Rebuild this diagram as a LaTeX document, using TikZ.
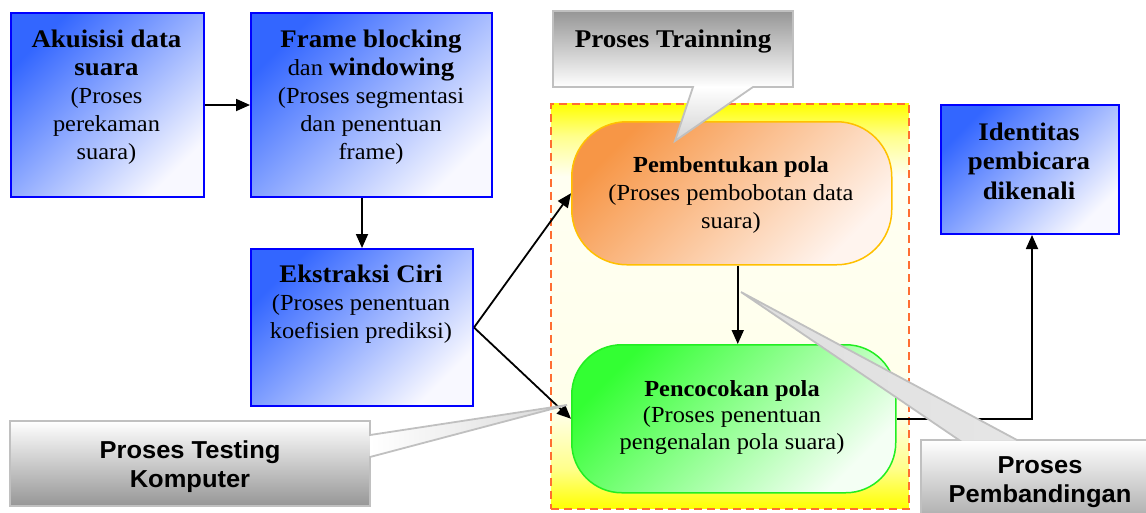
\documentclass[tikz,border=0pt]{standalone}
\usepackage{fontspec}
\setmainfont{Liberation Serif}[FakeStretch=1.06]
\newfontfamily\sansb{Liberation Sans}[FakeStretch=1.04]
\usetikzlibrary{arrows.meta}
\definecolor{boxblue}{HTML}{3366FF}
\definecolor{borderblue}{HTML}{0000FF}
\definecolor{boxwhite}{HTML}{F8F8FF}
\definecolor{orangeA}{HTML}{F79646}
\definecolor{orangeW}{HTML}{FFF4EE}
\definecolor{goldb}{HTML}{FFC000}
\definecolor{greenA}{HTML}{33FF33}
\definecolor{greenB}{HTML}{22EE22}
\definecolor{greenW}{HTML}{F4FFF4}
\definecolor{dashor}{HTML}{FF6E32}
\definecolor{cborder}{HTML}{C0C0C0}
\definecolor{cgray}{HTML}{969696}
\colorlet{ylwA}{yellow}
\colorlet{ylwB}{yellow!45}
\colorlet{ylwC}{yellow!8}
\colorlet{ylwD}{yellow!5}
\pgfdeclareverticalshading{yellowband}{100bp}{color(0bp)=(ylwA); color(25bp)=(ylwA); color(30bp)=(ylwB); color(37bp)=(ylwC); color(66bp)=(ylwD); color(71bp)=(ylwB); color(75bp)=(ylwA); color(100bp)=(ylwA)}
\newcommand\lines[1]{\begin{tabular}[t]{@{}c@{}}#1\end{tabular}}
\newcommand\bb[1]{{\fontsize{25.3}{28}\selectfont\bfseries #1}}
\tikzset{
  bluebox/.style={draw=borderblue, line width=2pt, top color=boxblue, bottom color=boxwhite, shading angle=45, anchor=north west, inner sep=0pt},
  orangebox/.style={draw=goldb, line width=1.5pt, rounded corners=55pt, top color=orangeA, bottom color=orangeW, shading angle=45, anchor=north west, inner sep=0pt},
  greenbox/.style={draw=greenB, line width=1.5pt, rounded corners=50pt, top color=greenA, bottom color=greenW, shading angle=45, anchor=north west, inner sep=0pt},
  yellowgrp/.style={draw=dashor, line width=1.5pt, dash pattern=on 8pt off 5pt, shading=yellowband, anchor=north west, inner sep=0pt},
  txt/.style={anchor=base, inner sep=0pt, font=\fontsize{23}{28}\selectfont},
  ctxt/.style={anchor=base, inner sep=0pt, font=\sansb\bfseries\fontsize{24.5}{29.5}\selectfont},
  arr/.style={line width=1.8pt, -{Triangle[length=14pt,width=12pt]}},
  cline/.style={draw=cborder, line width=1.8pt, line join=miter},
}
\begin{document}
\begin{tikzpicture}[x=1pt,y=-1pt]
\useasboundingbox (0,0) rectangle (1146,512);
\clip (0,0) rectangle (1146,512);

% group region
\node[yellowgrp, minimum width=358pt, minimum height=405pt] (grp) at (550,103) {};

% blue boxes
\node[bluebox, minimum width=193pt, minimum height=184pt] (akb) at (10,12) {};
\node[bluebox, minimum width=241pt, minimum height=184pt] (fbb) at (250,12) {};
\node[bluebox, minimum width=222pt, minimum height=157pt] (ekb) at (250,248) {};
\node[bluebox, minimum width=178pt, minimum height=129pt] (idb) at (940,104) {};

% rounded process shapes
\node[orangebox, minimum width=320pt, minimum height=143pt] (pbt) at (571,121) {};
\node[greenbox, minimum width=324pt, minimum height=148pt] (pcc) at (571,344) {};

% texts
\node[txt] (akt) at (106.5,47) {\lines{\bb{Akuisisi data}\\\bb{suara}\\(Proses\\perekaman\\suara)}};
\node[txt] (fbt) at (371,47) {\lines{\bb{Frame blocking}\\dan \bb{windowing}\\(Proses segmentasi\\dan penentuan\\frame)}};
\node[txt] (ekt) at (361,282) {\lines{\bb{Ekstraksi Ciri}\\(Proses penentuan\\koefisien prediksi)}};
\node[txt, font=\fontsize{23}{29.5}\selectfont] (idt) at (1029,140) {\lines{\bb{Identitas}\\\bb{pembicara}\\\bb{dikenali}}};
\node[txt] (pbtt) at (731,172) {\lines{\textbf{Pembentukan pola}\\(Proses pembobotan data\\suara)}};
\node[txt, font=\fontsize{23}{26.5}\selectfont] (pcct) at (732,396) {\lines{\textbf{Pencocokan pola}\\(Proses penentuan\\pengenalan pola suara)}};

% connectors
\draw[arr] (akb.east) -- (fbb.west);
\draw[arr] (fbb.south -| ekb.north) -- (ekb.north);
\draw[arr] (ekb.east) -- (pbt.west);
\draw[arr] (ekb.east) -- (pcc.west);
\draw[arr] ([xshift=6pt]pbt.south) -- ([xshift=6pt]pbt.south |- pcc.north);
\draw[arr] (pcc.east) -| ([xshift=2pt]idb.south);

% callout: Proses Trainning
\fill[top color=cgray, bottom color=white] (553,11) rectangle (793,87);
\fill[top color=white, bottom color=gray!35] (693,87) -- (753,87) -- (675,141) -- cycle;
\draw[cline] (553,11) -- (793,11) -- (793,87) -- (753,87) -- (675,141) -- (693,87) -- (553,87) -- cycle;
\node[txt, font=\bfseries\fontsize{25.5}{28}\selectfont] (trt) at (673,47) {Proses Trainning};

% callout: Proses Testing Komputer
\fill[top color=white, bottom color=cgray] (10,421) rectangle (370,506);
\fill[left color=white, right color=gray!30] (370,435) -- (567,405) -- (370,457) -- cycle;
\draw[cline] (10,421) -- (370,421) -- (370,435) -- (567,405) -- (370,457) -- (370,506) -- (10,506) -- cycle;
\node[ctxt] (tst) at (190,458) {\lines{Proses Testing\\Komputer}};

% callout: Proses Pembandingan
\fill[top color=white, bottom color=cgray] (921,440) rectangle (1170,540);
\fill[left color=gray!25, middle color=gray!65, right color=gray!20] (741,292) -- (1017,440) -- (959,440) -- cycle;
\draw[cline] (921,540) -- (921,440) -- (959,440) -- (741,292) -- (1017,440) -- (1170,440);
\node[ctxt] (pbd) at (1040,473) {\lines{Proses\\Pembandingan}};
\end{tikzpicture}
\end{document}
